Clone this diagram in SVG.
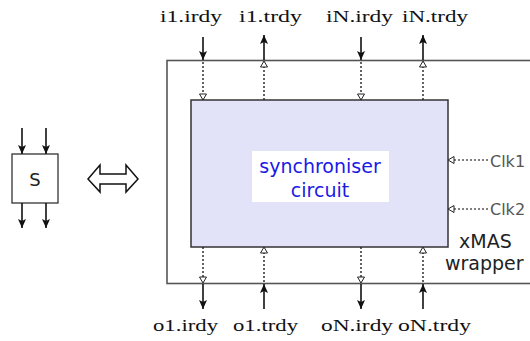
<svg xmlns="http://www.w3.org/2000/svg" width="530" height="341" viewBox="0 0 530 341">
<defs>
<style>
.lbl{font-family:"Liberation Serif","DejaVu Serif",serif;font-size:17px;fill:#111}
.sans{font-family:"DejaVu Sans","Liberation Sans",sans-serif}
.solid{stroke:#111;stroke-width:1.6;fill:none;marker-end:url(#ah)}
.dot{stroke:#222;stroke-width:1.4;stroke-dasharray:2,2;fill:none;marker-end:url(#oh)}
.dotg{stroke:#555;stroke-width:1.4;stroke-dasharray:2,2;fill:none;marker-end:url(#oh)}
</style>
<marker id="ah" markerUnits="userSpaceOnUse" markerWidth="10" markerHeight="10" refX="9" refY="4" orient="auto" viewBox="0 0 10 8">
<path d="M0,0 L9,4 L0,8 L2,4 z" fill="#111"/>
</marker>
<marker id="oh" markerUnits="userSpaceOnUse" markerWidth="8" markerHeight="8" refX="6" refY="3.5" orient="auto" viewBox="-1 -0.5 8 8">
<path d="M0,0 L6,3.5 L0,7 z" fill="#fff" stroke="#222" stroke-width="1"/>
</marker>
</defs>

<g id="wrapper">
<rect x="167" y="60.5" width="400" height="223" fill="none" stroke="#555" stroke-width="1.6"/>
<text class="sans" x="459" y="248" font-size="19" fill="#222">xMAS</text>
<text class="sans" x="445" y="270" font-size="19" fill="#222">wrapper</text>
</g>

<g id="synchroniser">
<rect x="191" y="100" width="257" height="147" fill="#e2e2f8" stroke="#333" stroke-width="1.5"/>
<rect x="252" y="151" width="137" height="51" fill="#fff"/>
<text class="sans" x="320" y="173" font-size="19" fill="#1a1ae6" text-anchor="middle">synchroniser</text>
<text class="sans" x="320" y="197" font-size="19" fill="#1a1ae6" text-anchor="middle">circuit</text>
</g>

<g id="S">
<rect x="12" y="154" width="46" height="49" fill="#fff" stroke="#333" stroke-width="1.3"/>
<text class="sans" x="35" y="186" font-size="18" fill="#222" text-anchor="middle">S</text>
</g>

<g id="equiv">
<polygon points="88,179 100,165 100,174 126,174 126,165 138,179 126,192 126,184 100,184 100,192" fill="#fff" stroke="#111" stroke-width="1.5" stroke-linejoin="miter"/>
</g>

<g id="labels">
<text class="lbl" x="160" y="22" textLength="62" lengthAdjust="spacingAndGlyphs">i1.irdy</text>
<text class="lbl" x="239" y="22" textLength="63" lengthAdjust="spacingAndGlyphs">i1.trdy</text>
<text class="lbl" x="326" y="22" textLength="67" lengthAdjust="spacingAndGlyphs">iN.irdy</text>
<text class="lbl" x="402" y="22" textLength="66" lengthAdjust="spacingAndGlyphs">iN.trdy</text>
<text class="lbl" x="153" y="331" textLength="65" lengthAdjust="spacingAndGlyphs">o1.irdy</text>
<text class="lbl" x="233" y="331" textLength="65" lengthAdjust="spacingAndGlyphs">o1.trdy</text>
<text class="lbl" x="321" y="331" textLength="72" lengthAdjust="spacingAndGlyphs">oN.irdy</text>
<text class="lbl" x="398" y="331" textLength="73" lengthAdjust="spacingAndGlyphs">oN.trdy</text>
<text class="sans" x="490" y="167" font-size="16" fill="#555">Clk1</text>
<text class="sans" x="490" y="215" font-size="16" fill="#555">Clk2</text>
</g>

<g id="connectors">
<line class="solid" x1="203" y1="37" x2="203" y2="60"/>
<line class="dot" x1="203" y1="62" x2="203" y2="100"/>
<line class="dot" x1="264" y1="100" x2="264" y2="61"/>
<line class="solid" x1="264" y1="60" x2="264" y2="35"/>
<line class="solid" x1="361" y1="37" x2="361" y2="60"/>
<line class="dot" x1="361" y1="62" x2="361" y2="100"/>
<line class="dot" x1="423" y1="100" x2="423" y2="61"/>
<line class="solid" x1="423" y1="60" x2="423" y2="35"/>

<line class="dot" x1="203" y1="247" x2="203" y2="283"/>
<line class="solid" x1="203" y1="284" x2="203" y2="309"/>
<line class="solid" x1="264" y1="309" x2="264" y2="284"/>
<line class="dot" x1="264" y1="282" x2="264" y2="247"/>
<line class="dot" x1="361" y1="247" x2="361" y2="283"/>
<line class="solid" x1="361" y1="284" x2="361" y2="309"/>
<line class="solid" x1="423" y1="309" x2="423" y2="284"/>
<line class="dot" x1="423" y1="282" x2="423" y2="247"/>

<line class="dotg" x1="488" y1="160" x2="448" y2="160"/>
<line class="dotg" x1="488" y1="209" x2="448" y2="209"/>

<line class="solid" x1="22" y1="128" x2="22" y2="154"/>
<line class="solid" x1="46" y1="128" x2="46" y2="154"/>
<line class="solid" x1="22" y1="203" x2="22" y2="228"/>
<line class="solid" x1="46" y1="203" x2="46" y2="228"/>
</g>
</svg>
